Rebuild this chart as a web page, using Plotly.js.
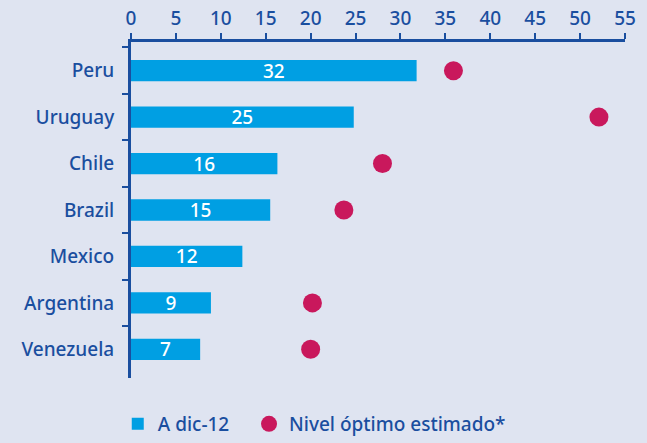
<!DOCTYPE html>
<html>
<head>
<meta charset="utf-8">
<script src="https://cdn.plot.ly/plotly-3.0.1.min.js"></script>
<style>
  html, body { margin: 0; padding: 0; background: #dfe4f1; }
  #chart { width: 647px; height: 443px; }
</style>
</head>
<body>
<div id="chart"></div>
<script>
// países y valores
const countries = ['Peru', 'Uruguay', 'Chile', 'Brazil', 'Mexico', 'Argentina', 'Venezuela'];
const actualValues = [31.8, 24.8, 16.3, 15.5, 12.4, 8.9, 7.7];
const actualLabels = ['32', '25', '16', '15', '12', '9', '7'];
const optimalValues = [35.9, 52.1, 28.0, 23.7, null, 20.2, 20.0];

const blueText = '#1a4e9f';
const fontFamily = 'Noto Sans, Open Sans, sans-serif';

const barTrace = {
    type: 'bar',
    orientation: 'h',
    // espacios duros para separar la segunda entrada de la leyenda
    name: 'A dic-12\u00a0\u00a0\u00a0',
    y: countries,
    x: actualValues,
    text: actualLabels,
    texttemplate: '%{text}',
    textposition: 'inside',
    insidetextanchor: 'middle',
    textangle: 0,
    constraintext: 'none',
    textfont: { color: '#ffffff', size: 19, family: fontFamily, weight: 500 },
    width: 0.46,
    marker: { color: '#009fe3' },
    hoverinfo: 'none'
};

const dotTrace = {
    type: 'scatter',
    mode: 'markers',
    name: 'Nivel óptimo estimado*',
    y: countries,
    x: optimalValues,
    marker: { color: '#c9185c', size: 19 },
    hoverinfo: 'none'
};

const layout = {
    width: 647,
    height: 443,
    paper_bgcolor: '#dfe4f1',
    plot_bgcolor: '#dfe4f1',
    font: { family: fontFamily, color: blueText, size: 19, weight: 500 },
    margin: { l: 131, r: 22, t: 42, b: 65, pad: 0, autoexpand: false },
    showlegend: true,
    legend: {
        orientation: 'h',
        x: 0.182,
        xanchor: 'left',
        xref: 'container',
        y: 0,
        yref: 'container',
        yanchor: 'bottom',
        bgcolor: 'rgba(0,0,0,0)',
        font: { size: 19, color: blueText, weight: 500 },
        itemsizing: 'trace'
    },
    xaxis: {
        side: 'top',
        range: [0, 55],
        dtick: 5,
        tick0: 0,
        showgrid: false,
        zeroline: false,
        showline: true,
        linecolor: blueText,
        linewidth: 3,
        ticks: 'outside',
        ticklen: 6,
        tickwidth: 2,
        tickcolor: blueText,
        tickfont: { size: 19, color: blueText, weight: 500 },
        fixedrange: true
    },
    yaxis: {
        type: 'category',
        categoryorder: 'array',
        categoryarray: countries,
        autorange: 'reversed',
        showgrid: false,
        zeroline: false,
        showline: true,
        linecolor: blueText,
        linewidth: 3,
        ticks: 'outside',
        tickson: 'boundaries',
        ticklen: 6,
        tickwidth: 2,
        tickcolor: blueText,
        ticklabelstandoff: 10,
        tickfont: { size: 19, color: blueText, weight: 500 },
        fixedrange: true
    }
};

Plotly.newPlot('chart', [barTrace, dotTrace], layout, { displayModeBar: false, staticPlot: true });
</script>
</body>
</html>
